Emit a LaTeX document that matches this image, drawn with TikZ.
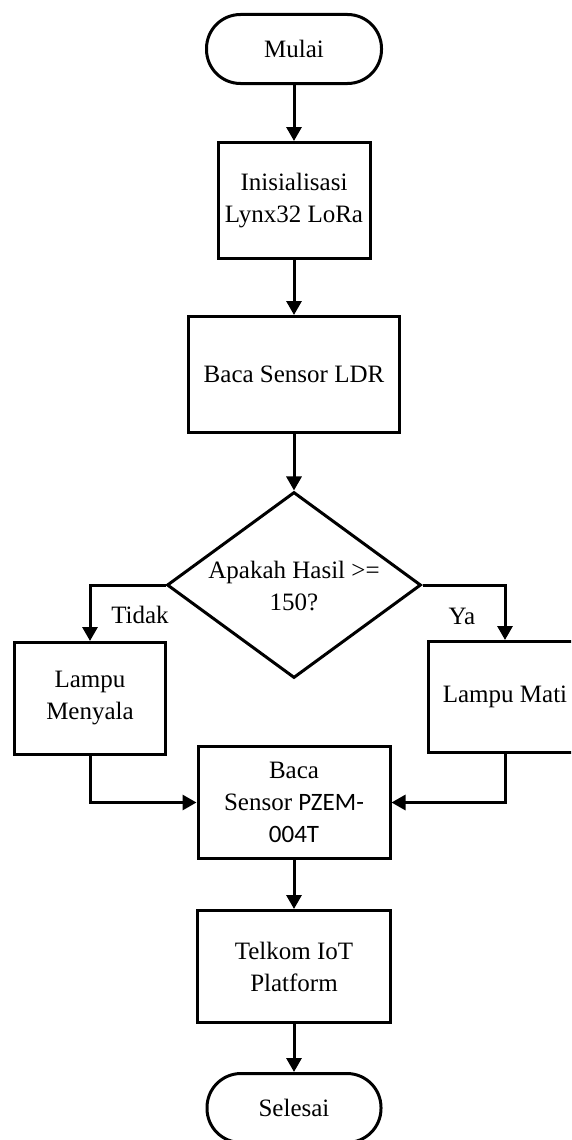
\documentclass[tikz,border=0pt]{standalone}
\usepackage{fontspec}
\setmainfont{Liberation Serif}
\newfontfamily\calibrifont{Carlito}
\usetikzlibrary{shapes.geometric,arrows.meta}
\begin{document}
\begin{tikzpicture}[x=1pt,y=-1pt,line width=3pt,
  txt/.style={font=\fontsize{25}{32}\selectfont, align=center},
  procbox/.style={txt, draw, rectangle, inner sep=0pt},
  termbox/.style={procbox, rounded corners=34pt},
  arr/.style={-{Triangle[length=14pt,width=15pt]}}]
\clip (0,0) rectangle (571,1140);
\useasboundingbox (0,0) rectangle (571,1140);

\node[termbox, minimum width=175pt, minimum height=69pt] (mulai) at (294,49) {Mulai};
\node[procbox, minimum width=152pt, minimum height=116pt] (init) at (294,200.5) {Inisialisasi\\Lynx32 LoRa};
\node[procbox, minimum width=211pt, minimum height=116pt] (ldr) at (294,374.5) {Baca Sensor LDR};
\node[draw, diamond, inner sep=0pt, aspect=1.366, minimum width=254pt, minimum height=186pt] (dec) at (294,585) {};
\node[txt] (dectext) at (294,586) {Apakah Hasil >=\\150?};
\node[procbox, minimum width=151pt, minimum height=112pt] (menyala) at (90,698.5) {Lampu\\Menyala};
\node[procbox, minimum width=153pt, minimum height=111pt] (mati) at (505,697) {Lampu Mati};
\node[procbox, minimum width=192pt, minimum height=112pt] (pzem) at (294,802.5) {Baca\\Sensor {\calibrifont PZEM-}\\{\calibrifont 004T}};
\node[procbox, minimum width=193pt, minimum height=112pt] (telkom) at (294,966.5) {Telkom IoT\\Platform};
\node[termbox, minimum width=174pt, minimum height=69pt] (selesai) at (294,1108) {Selesai};

\node[txt] (tidak) at (140,615) {Tidak};
\node[txt] (ya) at (462,616) {Ya};

\draw[arr] (mulai) -- (init);
\draw[arr] (init) -- (ldr);
\draw[arr] (ldr) -- (dec);
\draw[arr] (dec.west) -| (menyala.north);
\draw[arr] (dec.east) -| (mati.north);
\draw[arr] (menyala.south) |- (pzem.west);
\draw[arr] (mati.south) |- (pzem.east);
\draw[arr] (pzem) -- (telkom);
\draw[arr] (telkom) -- (selesai);
\end{tikzpicture}
\end{document}
